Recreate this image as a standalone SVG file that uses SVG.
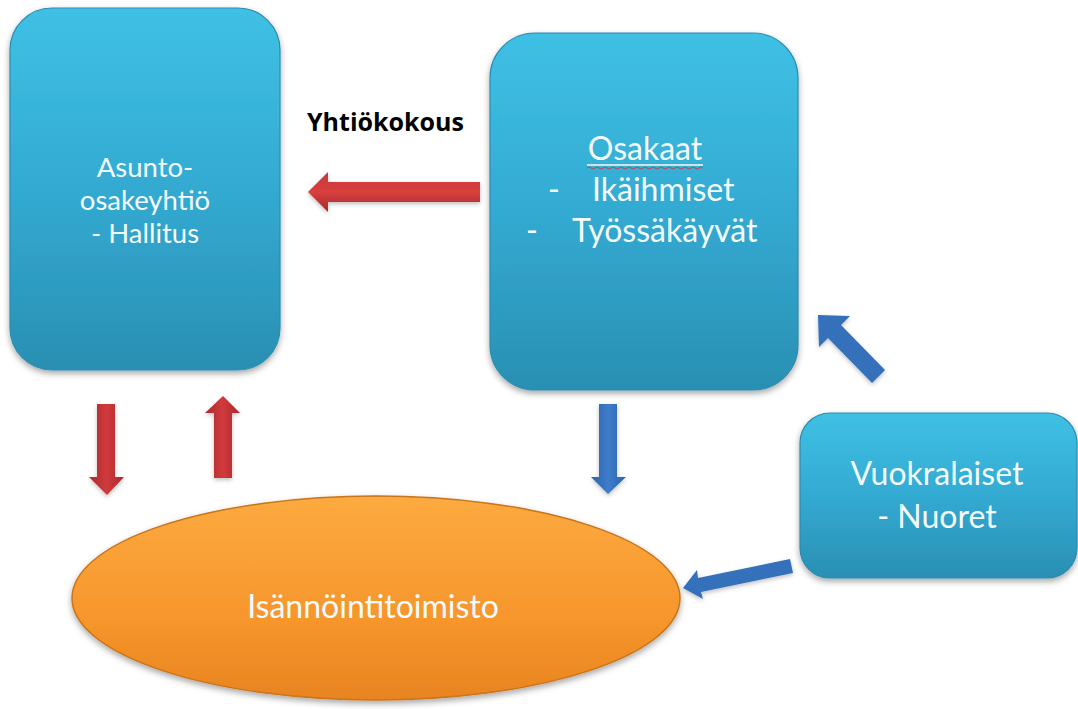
<svg xmlns="http://www.w3.org/2000/svg" width="1078" height="709" viewBox="0 0 1078 709">
<defs>
<linearGradient id="gBox" x1="0" y1="0" x2="0" y2="1">
<stop offset="0" stop-color="#3fc0e4"/>
<stop offset="0.5" stop-color="#33aad2"/>
<stop offset="1" stop-color="#2a8fb2"/>
</linearGradient>
<linearGradient id="gEll" x1="0" y1="0" x2="0" y2="1">
<stop offset="0" stop-color="#fcaa40"/>
<stop offset="0.6" stop-color="#f7962c"/>
<stop offset="1" stop-color="#e8841f"/>
</linearGradient>
<linearGradient id="gRedV" x1="0" y1="0" x2="1" y2="0">
<stop offset="0" stop-color="#a9282c"/>
<stop offset="0.5" stop-color="#d13a3c"/>
<stop offset="1" stop-color="#a9282c"/>
</linearGradient>
<linearGradient id="gRedH" x1="0" y1="0" x2="0" y2="1">
<stop offset="0" stop-color="#c83638"/>
<stop offset="0.5" stop-color="#d8403f"/>
<stop offset="1" stop-color="#a52a2c"/>
</linearGradient>
<linearGradient id="gBlue" x1="0" y1="0" x2="1" y2="0">
<stop offset="0" stop-color="#2e62ac"/>
<stop offset="0.5" stop-color="#3d7dca"/>
<stop offset="1" stop-color="#2e62ac"/>
</linearGradient>
<filter id="sh" x="-20%" y="-20%" width="140%" height="140%">
<feDropShadow dx="0" dy="3" stdDeviation="3" flood-color="#000" flood-opacity="0.35"/>
</filter>
<filter id="shA" x="-30%" y="-30%" width="160%" height="160%">
<feDropShadow dx="0" dy="2" stdDeviation="2" flood-color="#000" flood-opacity="0.25"/>
</filter>
<style>
.box{fill:url(#gBox);stroke:#2b8db0;stroke-width:1.2;filter:url(#sh);}
.ell{fill:url(#gEll);stroke:#c9741a;stroke-width:1.5;filter:url(#sh);}
.t{font-family:Lato,"Liberation Sans",sans-serif;fill:#f4fbfd;font-size:32px;}
.t.s{font-size:27.5px;}
.tc{text-anchor:middle;}
.lbl{font-family:"Open Sans","Liberation Sans",sans-serif;font-weight:bold;font-size:25px;fill:#000;}
.ar{filter:url(#shA);}
</style>
</defs>

<g id="connectors">
<polygon class="ar" fill="url(#gRedV)" points="97,404 115,404 115,477 124,477 107,495 89,477 97,477"/>
<polygon class="ar" fill="url(#gRedV)" points="214,478 232,478 232,413 240,413 223,396 205,413 214,413"/>
<polygon class="ar" fill="url(#gRedH)" points="480,182 480,202 328,202 328,212 308,192 328,172 328,182"/>
<polygon class="ar" fill="url(#gBlue)" points="599,404 617,404 617,477 626,477 608,494 591,477 599,477"/>
<polygon class="ar" fill="#3470bb" points="818,315 850,316 841,325 885,370 872,383 828,338 819,347"/>
<polygon class="ar" fill="#3470bb" points="683,588 697,570 698,578 790,559 793,573 701,592 703,599"/>
</g>

<g id="node-asunto">
<rect class="box" x="10" y="8" width="270" height="362" rx="42" ry="42"/>
<text class="t s tc" x="145" y="177">Asunto-</text>
<text class="t s tc" x="145" y="210">osakeyhtiö</text>
<text class="t s tc" x="145" y="243">- Hallitus</text>
</g>

<g id="node-osakaat">
<rect class="box" x="490" y="33" width="308" height="357" rx="45" ry="45"/>
<text class="t tc" x="645" y="160">Osakaat</text>
<line x1="587" y1="165" x2="703" y2="165" stroke="#f4fbfd" stroke-width="1.5"/>
<path d="M587,168 q2,-2 4,0 t4,0 t4,0 t4,0 t4,0 t4,0 t4,0 t4,0 t4,0 t4,0 t4,0 t4,0 t4,0 t4,0 t4,0 t4,0 t4,0 t4,0 t4,0 t4,0 t4,0 t4,0 t4,0 t4,0 t4,0 t4,0 t4,0 t4,0 t4,0" fill="none" stroke="#d0403a" stroke-width="1"/>
<text class="t" x="548" y="201">-</text>
<text class="t" x="592" y="201">Ikäihmiset</text>
<text class="t" x="526" y="242">-</text>
<text class="t" x="572" y="242">Työssäkäyvät</text>
</g>

<g id="node-vuokralaiset">
<rect class="box" x="800" y="413" width="277" height="165" rx="30" ry="30"/>
<text class="t tc" x="937" y="485">Vuokralaiset</text>
<text class="t tc" x="937" y="528">- Nuoret</text>
</g>

<g id="node-isannointi">
<ellipse class="ell" cx="376" cy="598" rx="304" ry="102"/>
<text class="t tc" x="373" y="618">Isännöintitoimisto</text>
</g>

<g id="label-yhtiokokous">
<text class="lbl" x="307" y="131">Yhtiökokous</text>
</g>
</svg>
